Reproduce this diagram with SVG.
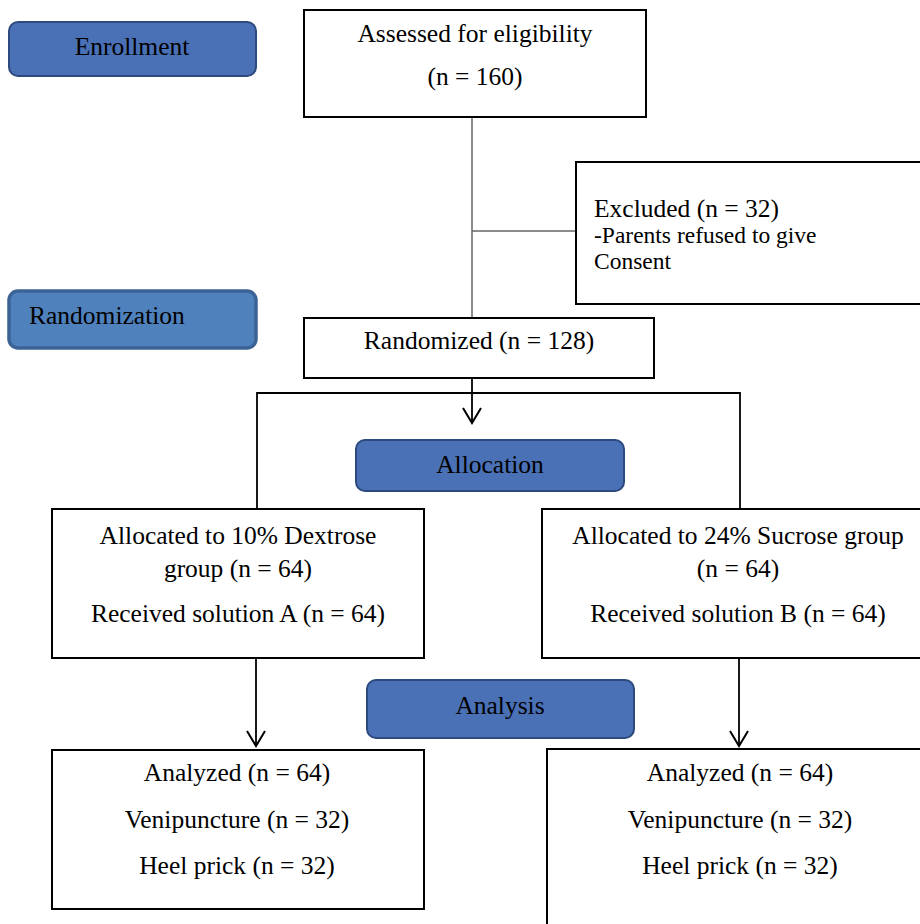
<svg xmlns="http://www.w3.org/2000/svg" width="920" height="924" viewBox="0 0 920 924">
<style>
.box{fill:#fff;stroke:#000;stroke-width:2}
.stage{fill:#4a70b5;stroke:#2c4a7e;stroke-width:2}
.stage2{fill:#4f81bd;stroke:#3b6395;stroke-width:3.5}
text{font-family:"Liberation Serif","Times New Roman",serif;font-size:25.5px;fill:#000}
.c{text-anchor:middle}
.s{font-size:23.5px}
.ln{stroke:#000;stroke-width:1.8;fill:none}
.gl{stroke:#666;stroke-width:1.5;fill:none}
</style>
<defs>
<marker id="ah" markerWidth="22" markerHeight="22" refX="17" refY="11" orient="auto" markerUnits="userSpaceOnUse" viewBox="0 0 22 22">
<path d="M2,2 L17,11 L2,20" fill="none" stroke="#000" stroke-width="2"/>
</marker>
</defs>
<rect width="920" height="924" fill="#fff"/>
<g id="connectors">
<line class="gl" x1="472" y1="117" x2="472" y2="318"/>
<line class="gl" x1="472" y1="231" x2="576" y2="231"/>
<line class="ln" x1="472" y1="378" x2="472" y2="423" marker-end="url(#ah)"/>
<polyline class="ln" points="257,509 257,393 740,393 740,509"/>
<line class="ln" x1="256" y1="628" x2="256" y2="746" marker-end="url(#ah)"/>
<line class="ln" x1="739" y1="628" x2="739" y2="746" marker-end="url(#ah)"/>
</g>
<g id="enrollment">
<rect class="stage" x="9" y="22" width="247" height="54" rx="9"/>
<text class="c" x="132" y="55">Enrollment</text>
</g>
<g id="randomization">
<rect class="stage2" x="9" y="291" width="247" height="57" rx="9"/>
<text x="29" y="324">Randomization</text>
</g>
<g id="allocation">
<rect class="stage" x="356" y="440" width="268" height="51" rx="9"/>
<text class="c" x="490" y="473">Allocation</text>
</g>
<g id="analysis">
<rect class="stage" x="367" y="680" width="267" height="58" rx="9"/>
<text class="c" x="500" y="714">Analysis</text>
</g>
<g id="assessed">
<rect class="box" x="304" y="10" width="342" height="107"/>
<text class="c" x="475" y="42">Assessed for eligibility</text>
<text class="c" x="475" y="85">(n = 160)</text>
</g>
<g id="excluded">
<rect class="box" x="576" y="162" width="350" height="142"/>
<text x="594" y="217">Excluded (n = 32)</text>
<text class="s" x="594" y="243">-Parents refused to give</text>
<text class="s" x="594" y="269">Consent</text>
</g>
<g id="randomized">
<rect class="box" x="304" y="318" width="350" height="60"/>
<text class="c" x="479" y="349">Randomized (n = 128)</text>
</g>
<g id="alloc-dextrose">
<rect class="box" x="52" y="509" width="372" height="149"/>
<text class="c" x="238" y="544">Allocated to 10% Dextrose</text>
<text class="c" x="238" y="577">group (n = 64)</text>
<text class="c" x="238" y="622">Received solution A (n = 64)</text>
</g>
<g id="alloc-sucrose">
<rect class="box" x="542" y="509" width="390" height="149"/>
<text class="c" x="738" y="544">Allocated to 24% Sucrose group</text>
<text class="c" x="738" y="577">(n = 64)</text>
<text class="c" x="738" y="622">Received solution B (n = 64)</text>
</g>
<g id="analyzed-dextrose">
<rect class="box" x="52" y="750" width="372" height="159"/>
<text class="c" x="237" y="781">Analyzed (n = 64)</text>
<text class="c" x="237" y="828">Venipuncture (n = 32)</text>
<text class="c" x="237" y="874">Heel prick (n = 32)</text>
</g>
<g id="analyzed-sucrose">
<rect class="box" x="547" y="749" width="390" height="190"/>
<text class="c" x="740" y="781">Analyzed (n = 64)</text>
<text class="c" x="740" y="828">Venipuncture (n = 32)</text>
<text class="c" x="740" y="874">Heel prick (n = 32)</text>
</g>
</svg>
